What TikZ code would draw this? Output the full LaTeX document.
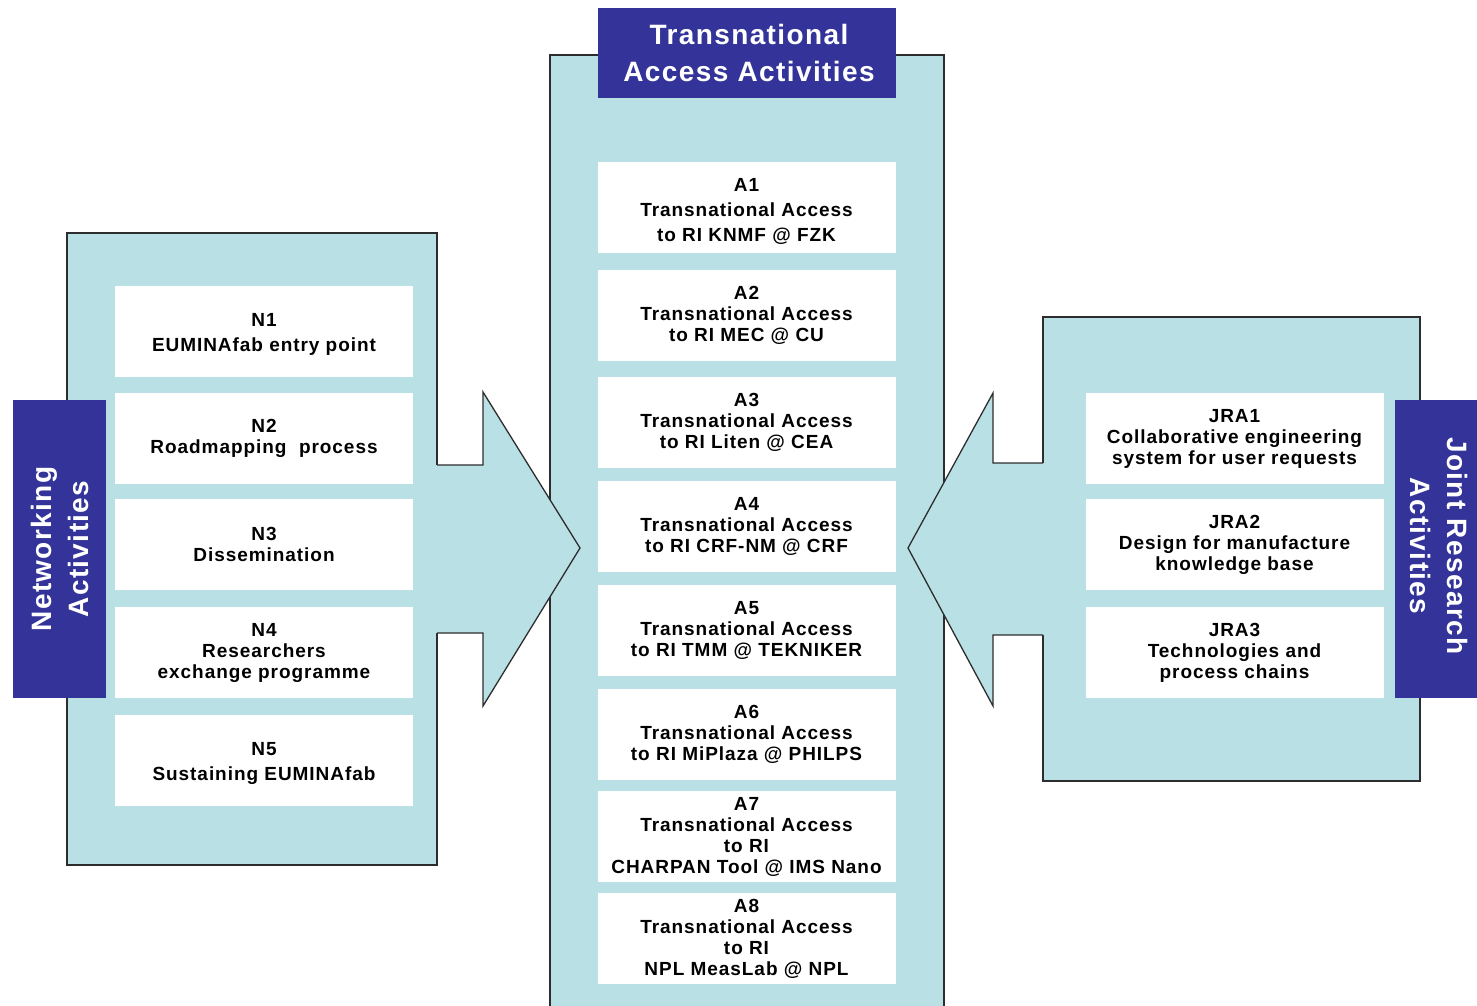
\documentclass[tikz,border=0pt]{standalone}
\usepackage{fontspec}
\setmainfont{Liberation Sans}
\newfontfamily\lsf[LetterSpace=5]{Liberation Sans}
\definecolor{pan}{RGB}{185,224,228}
\definecolor{dk}{RGB}{51,51,153}
\definecolor{ln}{RGB}{45,45,45}
\begin{document}
\begin{tikzpicture}[x=1pt,y=-1pt,
  panel/.style={fill=pan,draw=ln,line width=1.3pt},
  arrowshape/.style={fill=pan,draw=ln,line width=1.3pt,line join=miter},
  wbox/.style={fill=white,inner sep=0pt,align=center,minimum width=298pt,minimum height=91pt,
    font=\lsf\bfseries\fontsize{19}{21}\selectfont},
  dbox/.style={fill=dk,inner sep=0pt},
  dtext/.style={text=white,align=center,inner sep=0pt,font=\lsf\bfseries\fontsize{28}{37}\selectfont}]
\useasboundingbox (0,0) rectangle (1477,1006);
% panels
\draw[panel] (67,233) rectangle (437,865);
\draw[panel] (550,1010) -- (550,55) -- (944,55) -- (944,1010);
\draw[panel] (1043,317) rectangle (1420,781);
% left arrow
\fill[pan] (435,465) -- (483,465) -- (483,392) -- (580,548) -- (483,706) -- (483,633) -- (435,633) -- cycle;
\draw[arrowshape,fill=none] (437,465) -- (483,465) -- (483,392) -- (580,548) -- (483,706) -- (483,633) -- (437,633);
% right arrow
\fill[pan] (1045,463) -- (993,463) -- (993,393) -- (908,548) -- (993,706) -- (993,635) -- (1045,635) -- cycle;
\draw[arrowshape,fill=none] (1043,463) -- (993,463) -- (993,393) -- (908,548) -- (993,706) -- (993,635) -- (1043,635);
% left boxes
\node[wbox,minimum height=91pt] (n1) at (264,331) {};
\node[font=\lsf\bfseries\fontsize{19}{21}\selectfont,align=center,inner sep=0pt] (n1t) at (264,334) {N1\\[4pt]EUMINAfab entry point};
\node[wbox] (n2) at (264,438) {N2\\Roadmapping\ \ process};
\node[wbox] (n3) at (264,544) {N3\\Dissemination};
\node[wbox] (n4) at (264,652.5) {N4\\Researchers\\exchange programme};
\node[wbox] (n5) at (264,760) {};
\node[font=\lsf\bfseries\fontsize{19}{21}\selectfont,align=center,inner sep=0pt] (n5t) at (264,763) {N5\\[4pt]Sustaining EUMINAfab};
% centre boxes
\node[wbox] (a1) at (746.5,207.5) {};
\node[font=\lsf\bfseries\fontsize{19}{21}\selectfont,align=center,inner sep=0pt] (a1t) at (746.5,211) {A1\\[4pt]Transnational Access\\[4pt]to RI KNMF @ FZK};
\node[wbox] (a2) at (746.5,315) {A2\\Transnational Access\\to RI MEC @ CU};
\node[wbox] (a3) at (746.5,422.5) {A3\\Transnational Access\\to RI Liten @ CEA};
\node[wbox] (a4) at (746.5,526.5) {A4\\Transnational Access\\to RI CRF-NM @ CRF};
\node[wbox] (a5) at (746.5,630.5) {A5\\Transnational Access\\to RI TMM @ TEKNIKER};
\node[wbox] (a6) at (746.5,734) {A6\\Transnational Access\\to RI MiPlaza @ PHILPS};
\node[wbox] (a7) at (746.5,836.5) {A7\\Transnational Access\\to RI\\CHARPAN Tool @ IMS Nano};
\node[wbox] (a8) at (746.5,938.5) {A8\\Transnational Access\\to RI\\NPL MeasLab @ NPL};
% right boxes
\node[wbox] (j1) at (1234.5,438.5) {JRA1\\Collaborative engineering\\system for user requests};
\node[wbox] (j2) at (1234.5,544.5) {JRA2\\Design for manufacture\\knowledge base};
\node[wbox] (j3) at (1234.5,652.5) {JRA3\\Technologies and\\process chains};
% dark labels
\node[dbox,minimum width=93pt,minimum height=298pt] (net) at (59.5,549) {};
\node[dtext,rotate=90] (nett) at (60,549) {Networking\\Activities};
\node[dbox,minimum width=82pt,minimum height=298pt] (jra) at (1436,549) {};
\node[dtext,rotate=-90] (jrat) at (1439,546) {Joint Research\\Activities};
\node[dbox,minimum width=298pt,minimum height=90pt] (ta) at (747,53) {};
\node[dtext] (tat) at (749,53) {Transnational\\Access Activities};
\end{tikzpicture}
\end{document}
